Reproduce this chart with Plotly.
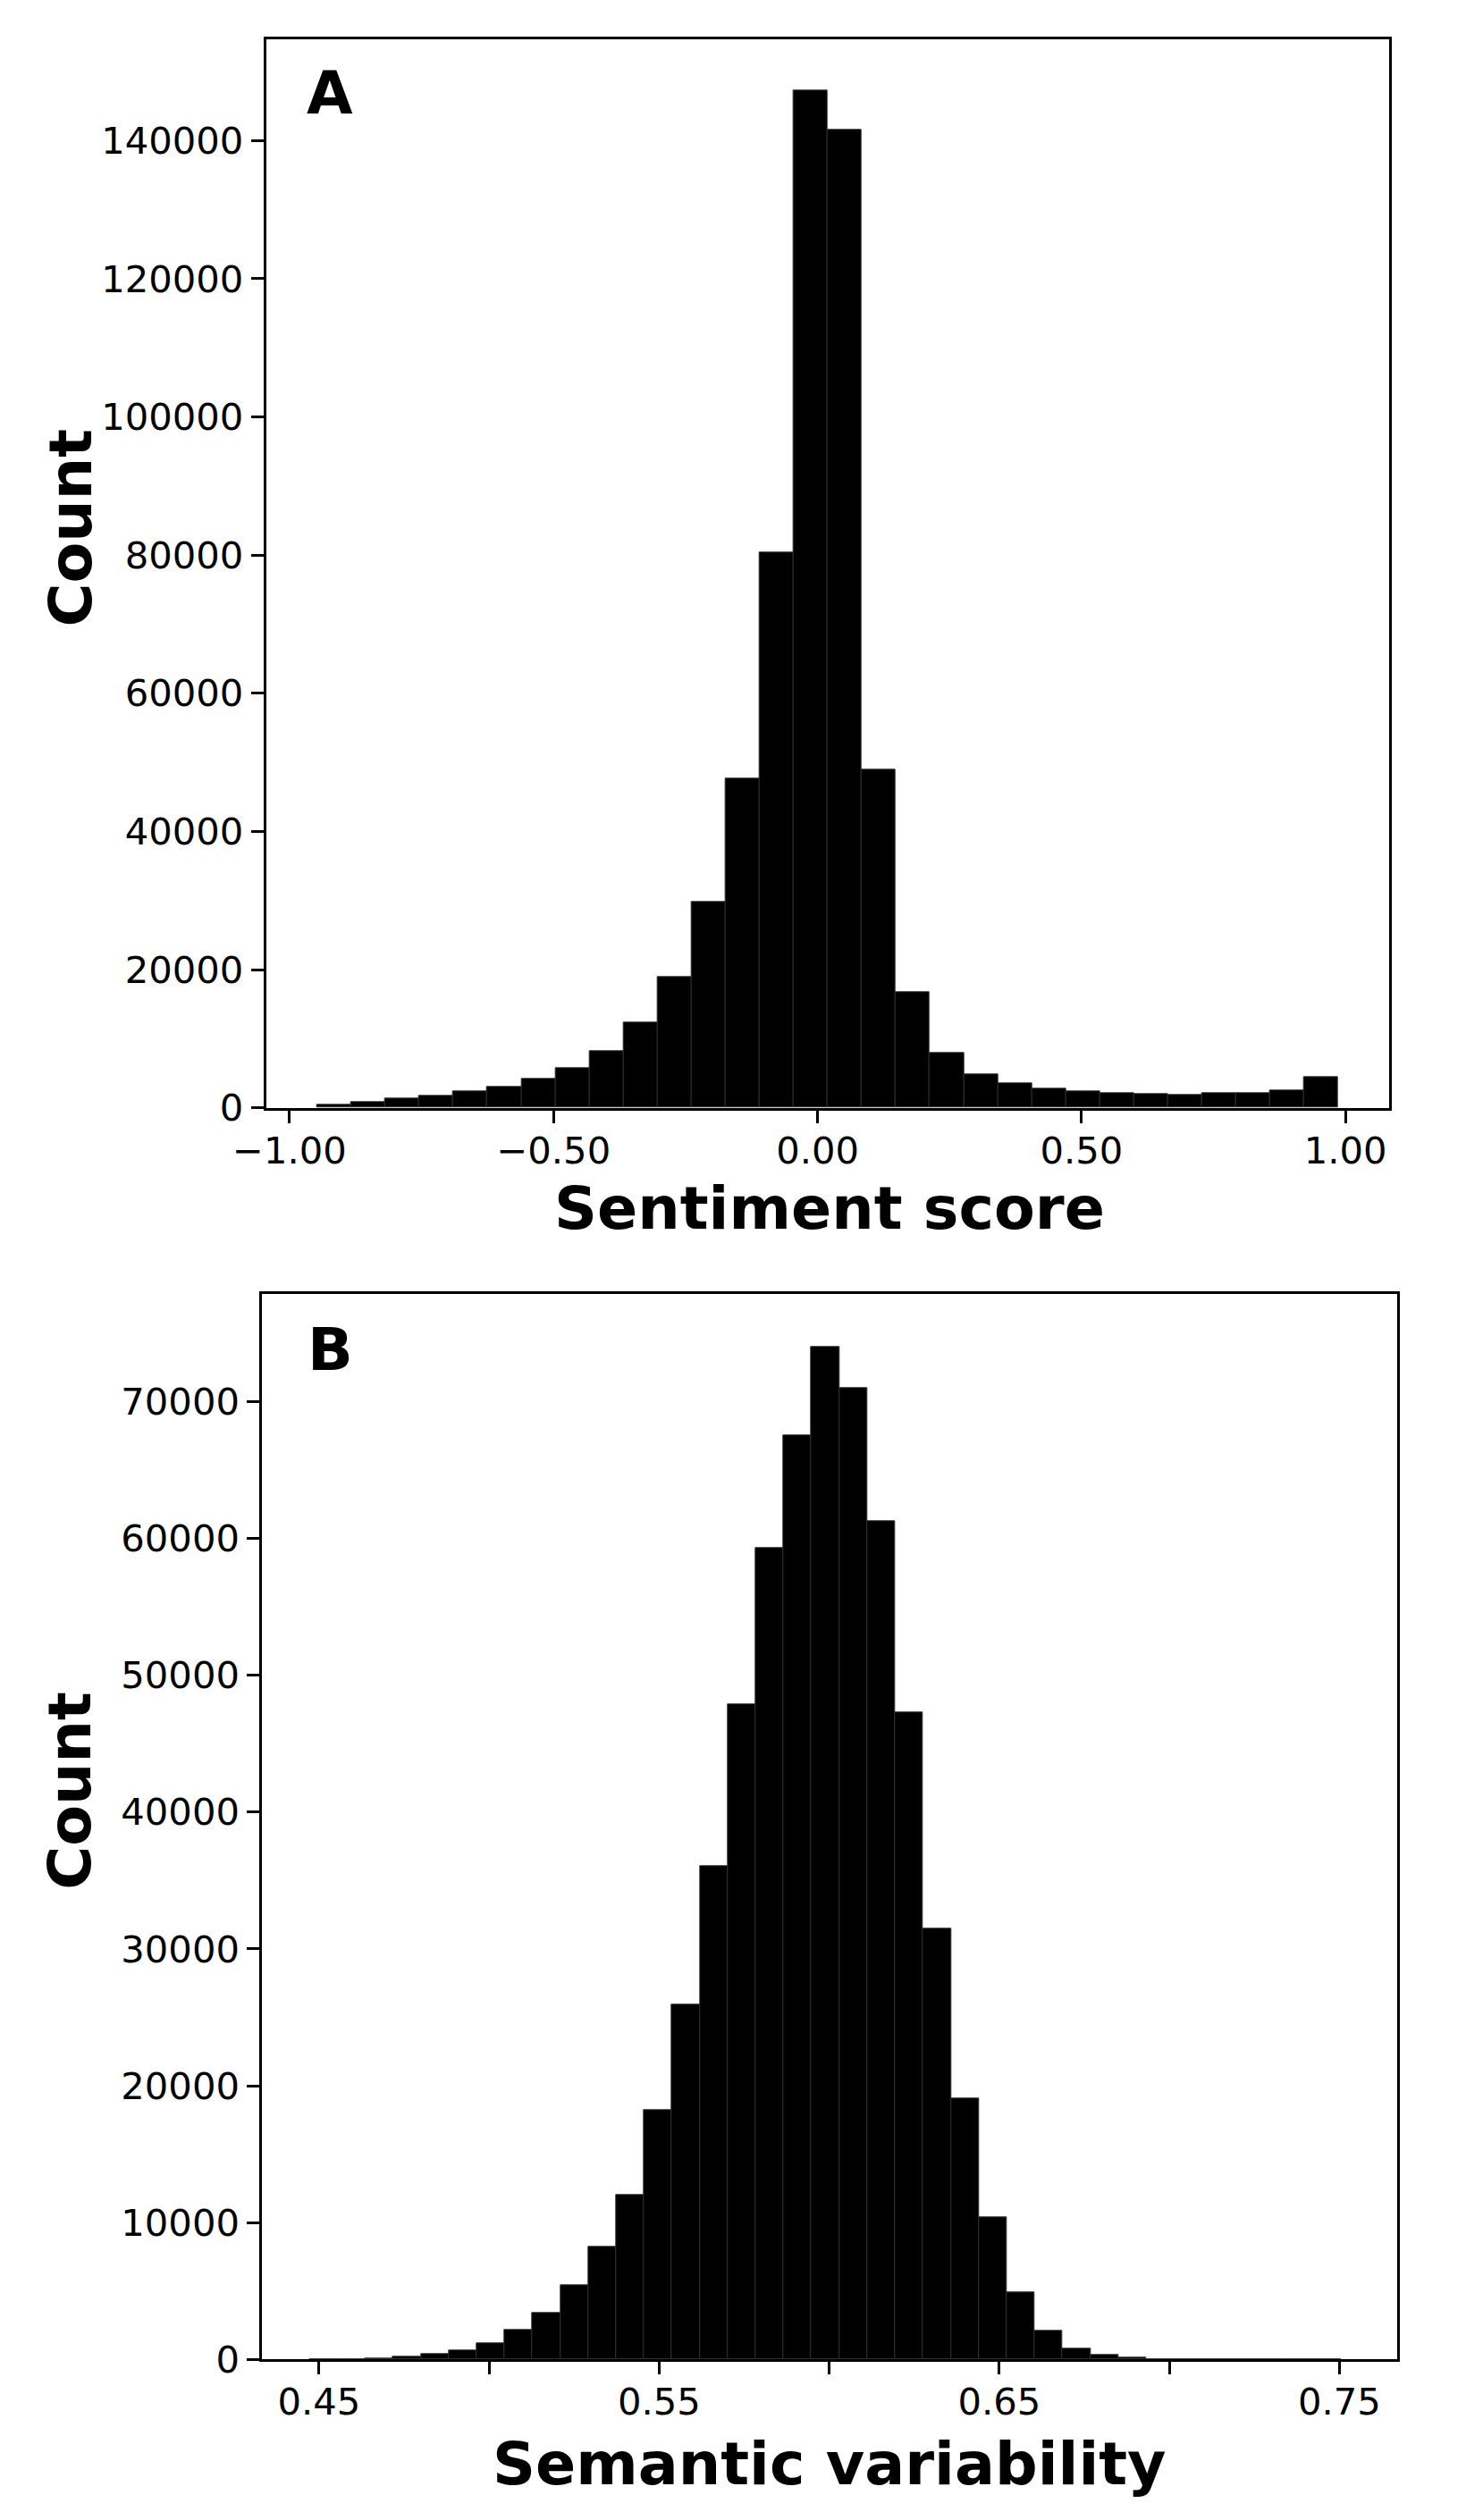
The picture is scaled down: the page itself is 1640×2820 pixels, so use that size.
import numpy as np
import plotly.graph_objects as go

# The page body has an 8px default margin; the figure is sized so that
# figure + margins exactly fill the 1640x2820 window.
OFF = 8
W, H = 1640 - 2 * OFF, 2820 - 2 * OFF

# ---------------- Data ----------------
# Panel A: sentiment score histogram (30 equal bins)
sent_min, sent_max = -0.9478, 0.9862
sent_nbins = 30
sent_counts = [400, 850, 1380, 1770, 2410, 3060, 4140, 5690, 8190, 12300,
               19000, 29800, 47600, 80400, 147190, 141500, 49000, 16800, 7900, 4870,
               3490, 2760, 2370, 2070, 1940, 1900, 2070, 2160, 2540, 4440]
sent_xticks = [-1.0, -0.5, 0.0, 0.5, 1.0]
sent_xticklabels = ["\u22121.00", "\u22120.50", "0.00", "0.50", "1.00"]
sent_yticks = [0, 20000, 40000, 60000, 80000, 100000, 120000, 140000]

# Panel B: semantic variability histogram (37 equal bins)
sem_min, sem_max = 0.4472, 0.7506
sem_nbins = 37
sem_counts = [10, 25, 65, 174, 370, 631, 1176, 2133, 3396, 5443,
              8229, 11990, 18190, 25930, 36030, 47850, 59283, 67546, 74005, 71025,
              61240, 47260, 31480, 19080, 10400, 4877, 2068, 784, 305, 100,
              30, 10, 4, 2, 1, 0, 1]
sem_xticks = [0.45, 0.50, 0.55, 0.60, 0.65, 0.70, 0.75]
sem_xticklabels = ["0.45", "", "0.55", "", "0.65", "", "0.75"]
sem_yticks = [0, 10000, 20000, 30000, 40000, 50000, 60000, 70000]


def hist_geometry(lo, hi, n):
    edges = np.linspace(lo, hi, n + 1)
    centers = (edges[:-1] + edges[1:]) / 2
    width = (hi - lo) / n
    return centers, width


sent_x, sent_w = hist_geometry(sent_min, sent_max, sent_nbins)
sem_x, sem_w = hist_geometry(sem_min, sem_max, sem_nbins)

fig = go.Figure()
fig.add_trace(go.Bar(x=sent_x, y=sent_counts, width=sent_w,
                     marker=dict(color="black", line=dict(color="#2e2e2e", width=1)),
                     xaxis="x", yaxis="y", showlegend=False))
fig.add_trace(go.Bar(x=sem_x, y=sem_counts, width=sem_w,
                     marker=dict(color="black", line=dict(color="#2e2e2e", width=1)),
                     xaxis="x2", yaxis="y2", showlegend=False))

FONT = "DejaVu Sans"
tickfont = dict(family=FONT, size=41.7, color="black")
axis_common = dict(showline=True, linecolor="black", linewidth=3, mirror=True,
                   ticks="outside", ticklen=14, tickwidth=3, tickcolor="black",
                   showgrid=False, zeroline=False, tickfont=tickfont,
                   automargin=False)


# positions measured in window pixels -> paper fractions
def px_x(v):
    return (v - OFF) / W


def px_y(v):
    return 1 - (v - OFF) / H


fig.update_layout(
    width=W, height=H,
    autosize=False,
    margin=dict(l=0, r=0, t=0, b=0, pad=0, autoexpand=False),
    paper_bgcolor="white", plot_bgcolor="white",
    bargap=0,
    xaxis=dict(domain=[px_x(297.7), px_x(1554)], range=[-1.0445, 1.0826],
               tickvals=sent_xticks, ticktext=sent_xticklabels, anchor="y",
               ticklabelstandoff=-5, **axis_common),
    yaxis=dict(domain=[px_y(1239.7), px_y(44.3)], range=[0, 154617],
               tickvals=sent_yticks, ticktext=[str(v) for v in sent_yticks],
               anchor="x", **axis_common),
    xaxis2=dict(domain=[px_x(293.3), px_x(1563)], range=[0.4333, 0.7670],
                tickvals=sem_xticks, ticktext=sem_xticklabels, anchor="y2",
                ticklabelstandoff=-5, **axis_common),
    yaxis2=dict(domain=[px_y(2640.3), px_y(1448.3)], range=[0, 77853],
                tickvals=sem_yticks, ticktext=[str(v) for v in sem_yticks],
                anchor="x2", **axis_common),
)

label_font = dict(family=FONT, size=66.7, color="black")
annots = [
    dict(text="<b>A</b>", x=px_x(342), y=px_y(104), xanchor="left", yanchor="middle"),
    dict(text="<b>B</b>", x=px_x(343), y=px_y(1510), xanchor="left", yanchor="middle"),
    dict(text="<b>Sentiment score</b>", x=px_x(928), y=px_y(1352), xanchor="center", yanchor="middle"),
    dict(text="<b>Semantic variability</b>", x=px_x(928), y=px_y(2757), xanchor="center", yanchor="middle"),
    dict(text="<b>Count</b>", x=px_x(78.6), y=px_y(590.8), xanchor="center", yanchor="middle", textangle=-90),
    dict(text="<b>Count</b>", x=px_x(78.6), y=px_y(2004.2), xanchor="center", yanchor="middle", textangle=-90),
]
for a in annots:
    fig.add_annotation(xref="paper", yref="paper", showarrow=False,
                       font=label_font, borderpad=0, **a)

fig.write_html("out.html")
